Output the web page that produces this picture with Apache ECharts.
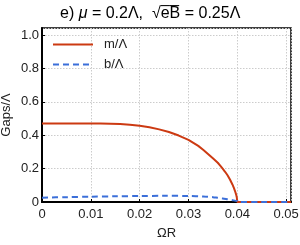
<!DOCTYPE html>
<html><head><meta charset="utf-8">
<script src="https://cdn.jsdelivr.net/npm/echarts@6/dist/echarts.min.js"></script>
<style>html,body{margin:0;padding:0;background:#fff}#c{width:300px;height:245px}</style>
</head><body><div id="c"></div>
<script>
const xM = [0, 0.005, 0.01, 0.012, 0.014, 0.016, 0.018, 0.02, 0.022, 0.024, 0.026, 0.028, 0.03, 0.032, 0.033, 0.034, 0.035, 0.036, 0.0365, 0.037, 0.0375, 0.038, 0.0385, 0.039, 0.0393, 0.0396, 0.0398, 0.0399, 0.04, 0.045, 0.051];
const mVals = [0.47, 0.47, 0.47, 0.47, 0.469, 0.467, 0.463, 0.457, 0.448, 0.435, 0.419, 0.398, 0.372, 0.336, 0.313, 0.288, 0.262, 0.235, 0.218, 0.2, 0.181, 0.16, 0.135, 0.105, 0.085, 0.06, 0.04, 0.027, 0, 0, 0];
const xB = [0, 0.005, 0.01, 0.015, 0.02, 0.025, 0.03, 0.033, 0.035, 0.036, 0.037, 0.038, 0.039, 0.04, 0.0401, 0.045, 0.051];
const bVals = [0.026, 0.029, 0.032, 0.034, 0.036, 0.037, 0.036, 0.033, 0.029, 0.025, 0.021, 0.016, 0.011, 0.005, 0, 0, 0];
const seriesNames = ['m/Λ', 'b/Λ'];
const titleText = ['e) ', 'μ', ' = 0.2Λ,  √e̅B̅ = 0.25Λ'];

const chart = echarts.init(document.getElementById('c'));
const font = 'Liberation Sans, Arial, sans-serif';
chart.setOption({
  animation: false,
  title: {
    text: '{a|' + titleText[0] + '}{i|' + titleText[1] + '}{a|' + titleText[2] + '}',
    left: 55, top: 1,
    textStyle: {
      fontWeight: 'normal',
      rich: {
        a: {fontFamily: font, fontSize: 16, color: '#000', fontWeight: 'normal'},
        i: {fontFamily: font, fontSize: 16, color: '#000', fontStyle: 'italic', fontWeight: 'normal'}
      }
    }
  },
  legend: {
    orient: 'vertical', left: 47, top: 33, itemWidth: 40, itemHeight: 10, itemGap: 7,
    itemStyle: {opacity: 0},
    textStyle: {fontFamily: font, fontSize: 13, color: '#222', padding: [0,0,0,6]},
    data: seriesNames
  },
  grid: {left: 42, right: 9, top: 28, bottom: 43, show: true, borderColor: '#000', borderWidth: 1.5,
    containLabel: false, outerBoundsMode: 'none'},
  xAxis: {
    type: 'value', min: 0, max: 0.051, interval: 0.01,
    name: 'ΩR', nameLocation: 'middle', nameGap: 25, nameMoveOverlap: false,
    nameTextStyle: {fontFamily: font, fontSize: 13, color: '#222'},
    axisLine: {lineStyle: {color: '#000', width: 2}},
    axisTick: {inside: true, length: 3, lineStyle: {color: '#000'}},
    axisLabel: {showMaxLabel: false, fontFamily: font, fontSize: 13, color: '#222', margin: 6,
      formatter: v => v === 0 ? '0' : v.toFixed(2)},
    splitLine: {show: true, lineStyle: {color: '#ccc', type: [1.5, 1.5], width: 1}}
  },
  yAxis: {
    type: 'value', min: 0, max: 1.042, interval: 0.2,
    name: 'Gaps/Λ', nameLocation: 'middle', nameGap: 29, nameRotate: 90, nameMoveOverlap: false,
    nameTextStyle: {fontFamily: font, fontSize: 13, color: '#222'},
    axisLine: {show: true, lineStyle: {color: '#000', width: 2}},
    axisTick: {show: true, inside: true, length: 3, lineStyle: {color: '#000'}},
    axisLabel: {showMaxLabel: false, fontFamily: font, fontSize: 13, color: '#222', margin: 3,
      formatter: v => v === 0 ? '0' : v.toFixed(1)},
    splitLine: {show: true, lineStyle: {color: '#ccc', type: [1.5, 1.5], width: 1}}
  },
  series: [
    {name: seriesNames[0], type: 'line', showSymbol: false, symbol: 'none', clip: true,
     data: xM.map((x, i) => [x, mVals[i]]),
     lineStyle: {color: '#cc3a12', width: 2}, itemStyle: {color: '#cc3a12'}},
    {name: seriesNames[1], type: 'line', showSymbol: false, symbol: 'none', clip: true,
     smooth: 0.3,
     data: xB.map((x, i) => [x, bVals[i]]),
     lineStyle: {color: '#3b6fd9', width: 2, type: [6, 4]}, itemStyle: {color: '#3b6fd9'}}
  ]
});
</script></body></html>
